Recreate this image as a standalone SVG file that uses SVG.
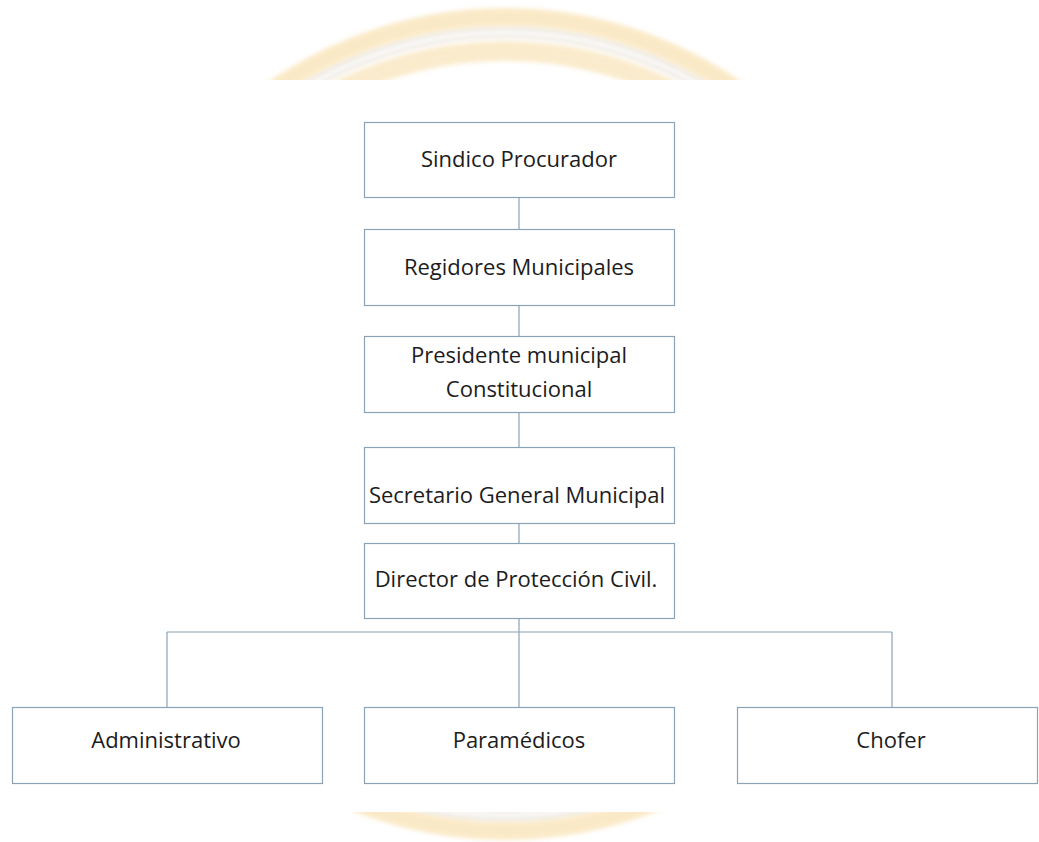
<svg xmlns="http://www.w3.org/2000/svg" width="1039" height="842" viewBox="0 0 1039 842">
<defs>
<style>
.box{fill:#ffffff;stroke:#8aa3b6;stroke-width:1.2}
.lbl{font-family:"Open Sans","Liberation Sans",sans-serif;font-size:22px;fill:#1c1c1c;text-anchor:middle}
.con{fill:none;stroke:#8aa3b6;stroke-width:1.2}
</style>
<filter id="blur" x="-10%" y="-10%" width="120%" height="120%"><feGaussianBlur stdDeviation="2.2"/></filter>
<clipPath id="wm"><rect x="0" y="0" width="1039" height="80"/><rect x="0" y="812" width="1039" height="30"/></clipPath>
</defs>
<rect width="1039" height="842" fill="#ffffff"/>
<g id="watermark" clip-path="url(#wm)">
<g filter="url(#blur)" fill="none" opacity="0.85">
<circle cx="505" cy="424" r="407" stroke="#fae6bd" stroke-width="18"/>
<circle cx="505" cy="424" r="395" stroke="#d9d0c2" stroke-width="2"/>
<circle cx="505" cy="424" r="388" stroke="#ddd3c4" stroke-width="2"/>
<circle cx="505" cy="424" r="373" stroke="#fae8c4" stroke-width="20"/>
</g>
</g>
<g id="connectors">
<path class="con" d="M519 197V229M519 305V336M519 412V447M519 523V543M519 618V707M167 632H892M167 632V707M892 632V707"/>
</g>
<g id="n1"><rect class="box" x="364.5" y="122.5" width="310" height="75"/><text class="lbl" x="519" y="167">Sindico Procurador</text></g>
<g id="n2"><rect class="box" x="364.5" y="229.5" width="310" height="76"/><text class="lbl" x="519" y="275">Regidores Municipales</text></g>
<g id="n3"><rect class="box" x="364.5" y="336.5" width="310" height="76"/><text class="lbl" x="519" y="363">Presidente municipal</text><text class="lbl" x="519" y="397">Constitucional</text></g>
<g id="n4"><rect class="box" x="364.5" y="447.5" width="310" height="76"/><text class="lbl" x="517" y="503">Secretario General Municipal</text></g>
<g id="n5"><rect class="box" x="364.5" y="543.5" width="310" height="75"/><text class="lbl" x="516" y="587">Director de Protección Civil.</text></g>
<g id="n6"><rect class="box" x="12.5" y="707.5" width="310" height="76"/><text class="lbl" x="166" y="748">Administrativo</text></g>
<g id="n7"><rect class="box" x="364.5" y="707.5" width="310" height="76"/><text class="lbl" x="519" y="748">Paramédicos</text></g>
<g id="n8"><rect class="box" x="737.5" y="707.5" width="300" height="76"/><text class="lbl" x="891" y="748">Chofer</text></g>
</svg>
